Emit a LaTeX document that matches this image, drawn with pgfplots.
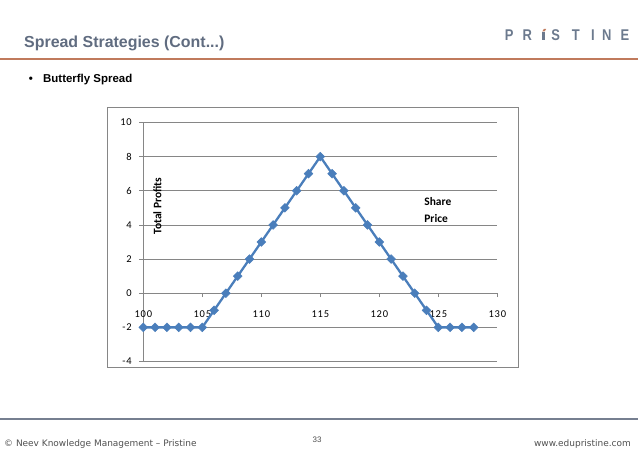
\documentclass[border=0pt]{standalone}
\usepackage{fontspec}
\setmainfont{Liberation Sans}
\newfontfamily\calibri{Carlito}
\newfontfamily\dejavu{DejaVu Sans}
\usepackage{pgfplots}
\pgfplotsset{compat=1.18}
\usetikzlibrary{calc,backgrounds}

\definecolor{titlegray}{RGB}{96,108,128}
\definecolor{logogray}{RGB}{108,122,142}
\definecolor{orangerule}{RGB}{192,122,92}
\definecolor{footrule}{RGB}{118,127,144}
\definecolor{series}{RGB}{74,126,187}
\definecolor{gridc}{RGB}{134,134,134}
\definecolor{foottext}{RGB}{80,80,80}

\begin{document}
\begin{tikzpicture}[x=1bp,y=1bp]

\begin{axis}[
    width=354bp, height=239bp, scale only axis,
    xmin=100, xmax=130, ymin=-4, ymax=10,
    xtick={100,105,...,130}, ytick={-4,-2,...,10},
    axis x line=middle, axis y line=left,
    hide obscured x ticks=false,
    axis line style={gridc,-,line width=0.6bp},
    ymajorgrids, grid style={gridc,line width=0.6bp},
    tick align=outside, major tick length=4bp,
    tick style={gridc,line width=0.6bp},
    /pgf/number format/assume math mode=true,
    ticklabel style={font=\calibri\fontsize{10.5}{12}\selectfont\addfontfeatures{LetterSpace=8}},
    yticklabel style={xshift=-4bp},
    xticklabel style={yshift=-10bp},
    clip=false,
  ]
  \coordinate (pa) at (rel axis cs:0,0);
  \addplot[series,line width=2.3bp,mark=square*,mark size=3.1bp,
    mark options={rotate=45,fill=series,draw=series,line width=0.5bp}]
    coordinates {
    (100,-2) (101,-2) (102,-2) (103,-2) (104,-2) (105,-2)
    (106,-1) (107,0) (108,1) (109,2) (110,3) (111,4) (112,5) (113,6) (114,7)
    (115,8)
    (116,7) (117,6) (118,5) (119,4) (120,3) (121,2) (122,1) (123,0) (124,-1)
    (125,-2) (126,-2) (127,-2) (128,-2)
  };
  \node[rotate=90,inner sep=0,font=\calibri\bfseries\fontsize{11.5}{13}\selectfont]
    at (axis cs:101.2,5.1) {Total Profits};
  \node[anchor=west,align=left,inner sep=0,font=\calibri\bfseries\fontsize{11.5}{17}\selectfont]
    at (axis cs:123.8,4.85) {Share\\Price};
\end{axis}

\begin{scope}[shift={($(pa)+(-143.3,-90.5)$)}]
\begin{scope}[on background layer]
  \fill[white] (0,0) rectangle (638,452);
\end{scope}
\path[use as bounding box] (0,0) rectangle (638,452);

% header
\node[anchor=base west,inner sep=0,text=titlegray,font=\fontsize{16}{19}\selectfont\bfseries]
  at (24,404.5) {Spread Strategies (Cont...)};
\draw[orangerule,line width=1.6bp] (0,392.8) -- (638,392.8);
\begin{scope}[every node/.style={anchor=base,inner sep=0,text=logogray,
    font=\fontsize{13}{13}\selectfont\bfseries,yscale=1.2}]
  \node at (509.3,411.5) {P};
  \node at (527.3,411.5) {R};
  \node at (555.8,411.5) {S};
  \node at (575.8,411.5) {T};
  \node at (592.8,411.5) {I};
  \node at (606.7,411.5) {N};
  \node at (625,411.5) {E};
\end{scope}
\fill[logogray] (542,411.5) rectangle (544.5,419.5);
\fill[orangerule] (542.2,420.5) -- (544.5,420.5) -- (546.2,423) -- (543.9,423) -- cycle;

\node[anchor=base,inner sep=0,font=\fontsize{11.5}{13}\selectfont\bfseries] at (31,369) {\textbullet};
\node[anchor=base west,inner sep=0,font=\fontsize{11.5}{13}\selectfont\bfseries] at (43,369) {Butterfly Spread};

% chart frame
\draw[gridc,line width=0.7bp] (107,85) rectangle (518,345);

% footer
\draw[footrule,line width=2.4bp] (0,33) -- (638,33);
\node[anchor=base west,inner sep=0,text=foottext,font=\dejavu\fontsize{9}{10}\selectfont]
  at (4,5.5) {© Neev Knowledge Management – Pristine};
\node[anchor=base,inner sep=0,text=foottext,font=\fontsize{8}{9}\selectfont] at (317,9) {33};
\node[anchor=base east,inner sep=0,text=foottext,font=\dejavu\fontsize{9}{10}\selectfont]
  at (631,5.3) {www.edupristine.com};
\end{scope}
\end{tikzpicture}
\end{document}
